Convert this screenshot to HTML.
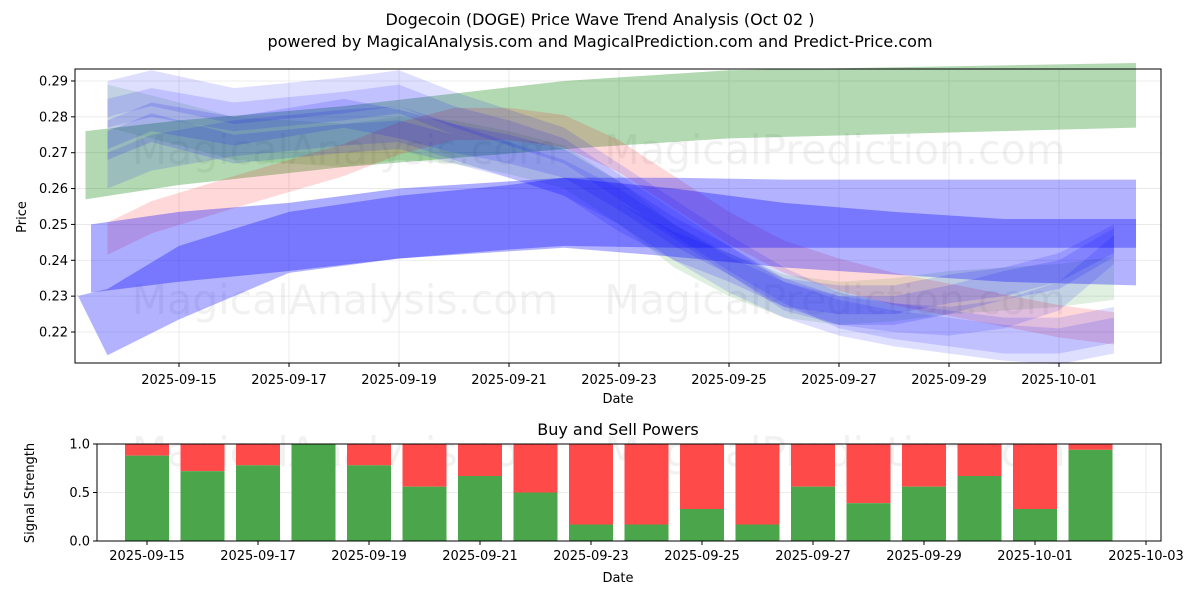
<!DOCTYPE html>
<html><head><meta charset="utf-8"><style>
body{margin:0;background:#fff;font-family:"Liberation Sans","DejaVu Sans",sans-serif}
svg text{font-family:"DejaVu Sans","Liberation Sans",sans-serif}
</style></head><body>
<svg id="c" width="1200" height="600" viewBox="0 0 1200 600" xmlns="http://www.w3.org/2000/svg">
<text x="600" y="25" text-anchor="middle" font-size="16">Dogecoin (DOGE) Price Wave Trend Analysis (Oct 02 )</text>
<text x="600" y="47" text-anchor="middle" font-size="16">powered by MagicalAnalysis.com and MagicalPrediction.com and Predict-Price.com</text>
<g id="topPanel"></g>
<g id="botPanel"></g>
</svg>
<script>
// ---- data ----
const priceTicks=[0.22,0.23,0.24,0.25,0.26,0.27,0.28,0.29];
const topDateLabels=["2025-09-15","2025-09-17","2025-09-19","2025-09-21","2025-09-23","2025-09-25","2025-09-27","2025-09-29","2025-10-01"];
const topDateDays=[0,2,4,6,8,10,12,14,16];
const greenDays=[-1.7,0,3,7,10,17.4];
const greenUpper=[0.276,0.279,0.283,0.290,0.293,0.295];
const greenLower=[0.257,0.261,0.266,0.271,0.274,0.277];
const blueADays=[-1.6,0,2,4,6,7,9,11,13,15,17.4];
const blueAUpper=[0.250,0.2535,0.256,0.260,0.262,0.263,0.260,0.256,0.2535,0.2515,0.2515];
const blueALower=[0.231,0.234,0.237,0.2405,0.243,0.244,0.2435,0.2435,0.2435,0.2435,0.2435];
const blueBDays=[-1.85,-1.3,0,2,4,6,7,9,11,13,15,17.4];
const blueBUpper=[0.230,0.232,0.244,0.2535,0.258,0.261,0.263,0.263,0.2625,0.2625,0.2625,0.2625];
const blueBLower=[0.2305,0.2135,0.2235,0.2365,0.2405,0.2425,0.2435,0.241,0.238,0.236,0.234,0.233];
const waveDays=[-1.3,-0.5,1,3,4,5,6,7,8,9,10,11,12,13,14,15,16,17];
const wave1=[0.275,0.280,0.276,0.281,0.278,0.274,0.271,0.267,0.258,0.248,0.240,0.231,0.226,0.226,0.229,0.233,0.236,0.245];
const wave2=[0.285,0.288,0.283,0.286,0.288,0.282,0.277,0.272,0.262,0.252,0.242,0.233,0.226,0.223,0.221,0.219,0.219,0.222];
const wave3=[0.265,0.270,0.274,0.277,0.278,0.273,0.268,0.263,0.255,0.245,0.236,0.229,0.224,0.221,0.219,0.217,0.216,0.219];
const wave4=[0.272,0.277,0.271,0.274,0.275,0.271,0.267,0.262,0.252,0.244,0.238,0.231,0.229,0.229,0.232,0.234,0.238,0.246];
const wave5=[0.281,0.284,0.280,0.283,0.285,0.279,0.275,0.270,0.260,0.250,0.240,0.230,0.226,0.224,0.223,0.225,0.230,0.243];
const pinkWave=[0.246,0.252,0.259,0.268,0.274,0.278,0.278,0.276,0.269,0.259,0.249,0.241,0.236,0.232,0.229,0.226,0.223,0.221];
const greenWave=[0.283,0.280,0.274,0.272,0.274,0.273,0.270,0.266,0.256,0.244,0.236,0.230,0.228,0.229,0.231,0.232,0.233,0.235];
const barLabels=["2025-09-15","2025-09-17","2025-09-19","2025-09-21","2025-09-23","2025-09-25","2025-09-27","2025-09-29","2025-10-01","2025-10-03"];
const barLabelDays=[0,2,4,6,8,10,12,14,16,18];
const barDays=[0,1,2,3,4,5,6,7,8,9,10,11,12,13,14,15,16,17];
const buyPower=[0.88,0.72,0.78,1.0,0.78,0.56,0.67,0.5,0.17,0.17,0.33,0.17,0.56,0.39,0.56,0.67,0.33,0.94];
const signalTicks=[0,0.5,1.0];
const signalTickLabels=["0.0","0.5","1.0"];

const NS="http://www.w3.org/2000/svg";
function mk(p,t,a){const e=document.createElementNS(NS,t);for(const k in a)e.setAttribute(k,a[k]);p.appendChild(e);return e;}
const topG=document.getElementById('topPanel'),botG=document.getElementById('botPanel');
const T={l:75,r:1161,t:69,b:363};
const xT=d=>179+55*d, yT=v=>332-(v-0.22)*3586;
const B={l:97,r:1161,t:444,b:541};
const xB=d=>147+55.5*d, yB=v=>541-v*97;

priceTicks.forEach(v=>{const g=mk(topG,'line',{x1:T.l,x2:T.r,y1:yT(v),y2:yT(v),stroke:'#e6e6e6','stroke-width':0.8});

});
topDateDays.forEach(d=>{const g=mk(topG,'line',{x1:xT(d),x2:xT(d),y1:T.t,y2:T.b,stroke:'#e6e6e6','stroke-width':0.8});

});
[[345,150,'MagicalAnalysis.com'],[835,150,'MagicalPrediction.com'],[345,300,'MagicalAnalysis.com'],[835,300,'MagicalPrediction.com'],[345,452,'MagicalAnalysis.com'],[835,452,'MagicalPrediction.com']].forEach(w=>{
const t=mk(topG,'text',{x:w[0],y:w[1]+14,'text-anchor':'middle','font-size':41,fill:'#888','fill-opacity':0.12});t.textContent=w[2];

});
function band(days,up,lo,color,op,name){
 let p=days.map((d,i)=>xT(d)+','+yT(up[i]));
 for(let i=days.length-1;i>=0;i--)p.push(xT(days[i])+','+yT(lo[i]));
 const e=mk(topG,'polygon',{points:p.join(' '),fill:color,'fill-opacity':op});
 
 }
function wave(c,hw,color,op,name){band(waveDays,c.map(v=>v+hw),c.map(v=>v-hw),color,op,name);}
band(greenDays,greenUpper,greenLower,'#008000',0.3,'green-trend-band');
wave(greenWave,0.006,'#008000',0.12,'green-wave-band');
wave(pinkWave,0.0045,'#ff0000',0.15,'red-wave-band');
wave(wave1,0.004,'#0000ff',0.14,'blue-wave-band-1');
wave(wave2,0.005,'#0000ff',0.13,'blue-wave-band-2');
wave(wave3,0.005,'#0000ff',0.13,'blue-wave-band-3');
wave(wave4,0.004,'#0000ff',0.14,'blue-wave-band-4');
wave(wave5,0.004,'#0000ff',0.13,'blue-wave-band-5');
band(blueBDays,blueBUpper,blueBLower,'#0000ff',0.3,'blue-trend-band-wide');
band(blueADays,blueAUpper,blueALower,'#0000ff',0.32,'blue-trend-band');
let f=mk(topG,'rect',{x:T.l,y:T.t,width:T.r-T.l,height:T.b-T.t,fill:'none',stroke:'#000','stroke-width':1});


priceTicks.forEach(v=>{mk(topG,'line',{x1:T.l-4,x2:T.l,y1:yT(v),y2:yT(v),stroke:'#000'});
 const t=mk(topG,'text',{x:T.l-7,y:yT(v)+4.5,'text-anchor':'end','font-size':13});t.textContent=v.toFixed(2);
 
 });
topDateDays.forEach((d,i)=>{mk(topG,'line',{x1:xT(d),x2:xT(d),y1:T.b,y2:T.b+4,stroke:'#000'});
 const t=mk(topG,'text',{x:xT(d),y:T.b+21,'text-anchor':'middle','font-size':13});t.textContent=topDateLabels[i];
 
 });
let t1=mk(topG,'text',{x:618,y:403,'text-anchor':'middle','font-size':13});t1.textContent='Date';


let t2=mk(topG,'text',{x:26,y:217,'text-anchor':'middle','font-size':13,transform:'rotate(-90 26 217)'});t2.textContent='Price';



signalTicks.forEach(v=>{const g=mk(botG,'line',{x1:B.l,x2:B.r,y1:yB(v),y2:yB(v),stroke:'#e6e6e6','stroke-width':0.8});

});
barLabelDays.forEach(d=>{const g=mk(botG,'line',{x1:xB(d),x2:xB(d),y1:B.t,y2:B.b,stroke:'#e6e6e6','stroke-width':0.8});

});
barDays.forEach((d,i)=>{const w=44,x=xB(d)-w/2,g=buyPower[i];
 const s=mk(botG,'rect',{x:x,y:yB(1),width:w,height:yB(g)-yB(1),fill:'#ff4a4a'});
 
 
 const b=mk(botG,'rect',{x:x,y:yB(g),width:w,height:yB(0)-yB(g),fill:'#4ba64b'});
 
 });
let f2=mk(botG,'rect',{x:B.l,y:B.t,width:B.r-B.l,height:B.b-B.t,fill:'none',stroke:'#000'});


signalTicks.forEach((v,i)=>{mk(botG,'line',{x1:B.l-4,x2:B.l,y1:yB(v),y2:yB(v),stroke:'#000'});
 const t=mk(botG,'text',{x:B.l-7,y:yB(v)+4.5,'text-anchor':'end','font-size':13});t.textContent=signalTickLabels[i];
 
 });
barLabelDays.forEach((d,i)=>{mk(botG,'line',{x1:xB(d),x2:xB(d),y1:B.b,y2:B.b+4,stroke:'#000'});
 const t=mk(botG,'text',{x:xB(d),y:B.b+19,'text-anchor':'middle','font-size':13});t.textContent=barLabels[i];
 
 });
let t3=mk(botG,'text',{x:618,y:582,'text-anchor':'middle','font-size':13});t3.textContent='Date';


let t4=mk(botG,'text',{x:34,y:493,'text-anchor':'middle','font-size':13,transform:'rotate(-90 34 493)'});t4.textContent='Signal Strength';


let t5=mk(botG,'text',{x:618,y:435,'text-anchor':'middle','font-size':16});t5.textContent='Buy and Sell Powers';


</script>
</body></html>
